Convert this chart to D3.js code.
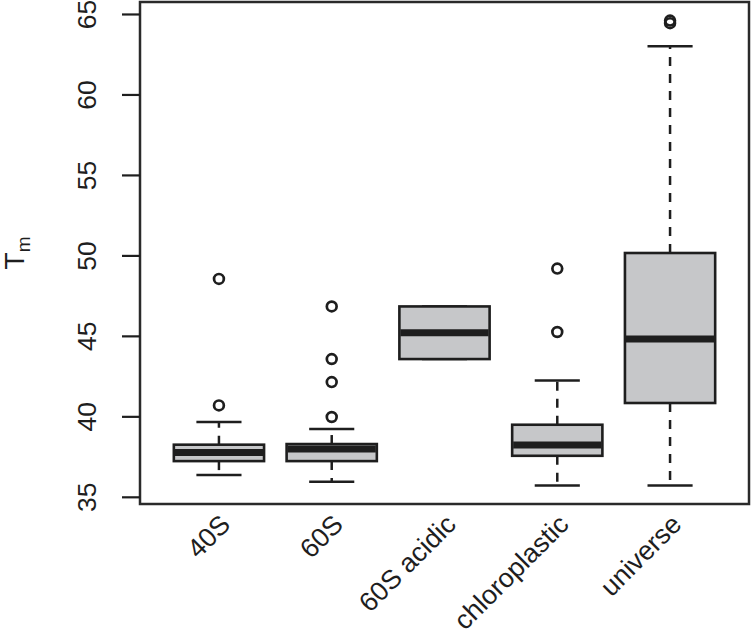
<!DOCTYPE html>
<html>
<head>
<meta charset="utf-8">
<script src="https://cdn.jsdelivr.net/npm/d3@7"></script>
<style>
  html, body { margin: 0; padding: 0; background: #fff; }
  svg { display: block; }
  text { font-family: "Liberation Sans", Arial, Helvetica, sans-serif; fill: #1e1e1e; }
</style>
</head>
<body>
<svg id="chart" width="751" height="637"></svg>
<script>
// ---- data ----
const categories  = ["40S", "60S", "60S acidic", "chloroplastic", "universe"];
const whiskerLow  = [36.38, 35.97, 43.59, 35.74, 35.74];
const q1          = [37.25, 37.25, 43.59, 37.58, 40.86];
const medians     = [37.79, 38.00, 45.23, 38.25, 44.84];
const q3          = [38.27, 38.31, 46.86, 39.51, 50.18];
const whiskerHigh = [39.68, 39.24, 46.86, 42.26, 63.02];
const outliers    = [[48.57, 40.71], [46.86, 43.59, 42.16, 39.99], [], [49.21, 45.27], [64.62, 64.46]];
const yTicks      = [35, 40, 45, 50, 55, 60, 65];

// ---- layout ----
const svg = d3.select("#chart");
const plot = { left: 140, right: 749, top: 2, bottom: 504 };
const ink = "#1e1e1e";

const allVals = whiskerLow.concat(whiskerHigh, outliers.flat());
const vmin = d3.min(allVals), vmax = d3.max(allVals), pad = (vmax - vmin) * 0.04;

const x = d3.scaleLinear().domain([0.3, categories.length + 0.7]).range([plot.left, plot.right]);
const y = d3.scaleLinear().domain([vmin - pad, vmax + pad]).range([plot.bottom, plot.top]);

const boxW = x(0.8) - x(0);
const capW = boxW / 2;

const g = svg.append("g");

categories.forEach((c, i) => {
  const cx = x(i + 1);
  const grp = g.append("g");
  // whiskers (dashed)
  if (whiskerLow[i] < q1[i]) {
    grp.append("line").attr("x1", cx).attr("x2", cx)
      .attr("y1", y(q1[i])).attr("y2", y(whiskerLow[i]))
      .attr("stroke", ink).attr("stroke-width", 2.5).attr("stroke-dasharray", "9,8");
  }
  if (whiskerHigh[i] > q3[i]) {
    grp.append("line").attr("x1", cx).attr("x2", cx)
      .attr("y1", y(q3[i])).attr("y2", y(whiskerHigh[i]))
      .attr("stroke", ink).attr("stroke-width", 2.5).attr("stroke-dasharray", "9,8");
  }
  // caps
  [whiskerLow[i], whiskerHigh[i]].forEach(v => {
    grp.append("line").attr("x1", cx - capW / 2).attr("x2", cx + capW / 2)
      .attr("y1", y(v)).attr("y2", y(v))
      .attr("stroke", ink).attr("stroke-width", 2.5);
  });
  // box
  grp.append("rect")
    .attr("x", cx - boxW / 2).attr("width", boxW)
    .attr("y", y(q3[i])).attr("height", y(q1[i]) - y(q3[i]))
    .attr("fill", "#c6c7c9").attr("stroke", ink).attr("stroke-width", 2.6);
  // median
  grp.append("line").attr("x1", cx - boxW / 2 + 1).attr("x2", cx + boxW / 2 - 1)
    .attr("y1", y(medians[i])).attr("y2", y(medians[i]))
    .attr("stroke", ink).attr("stroke-width", 7);
  // outliers
  grp.selectAll("circle.out").data(outliers[i]).enter().append("circle")
    .attr("cx", cx).attr("cy", d => y(d)).attr("r", 4.9)
    .attr("fill", "none").attr("stroke", ink).attr("stroke-width", 2.7);
});

// plot frame
svg.append("rect")
  .attr("x", plot.left).attr("y", plot.top)
  .attr("width", plot.right - plot.left).attr("height", plot.bottom - plot.top)
  .attr("fill", "none").attr("stroke", "#2a2a2a").attr("stroke-width", 2.5);

// y axis ticks & labels
const yAxis = svg.append("g");
yTicks.forEach(t => {
  yAxis.append("line").attr("x1", 122).attr("x2", plot.left)
    .attr("y1", y(t)).attr("y2", y(t))
    .attr("stroke", ink).attr("stroke-width", 2.2);
  yAxis.append("text")
    .attr("transform", `translate(96,${y(t)}) rotate(-90)`)
    .attr("text-anchor", "middle")
    .attr("font-size", "26.5px")
    .text(t);
});

// x labels (rotated 45)
categories.forEach((c, i) => {
  svg.append("text")
    .attr("transform", `translate(${x(i + 1) + 13},${plot.bottom + 22}) rotate(-45)`)
    .attr("text-anchor", "end")
    .attr("font-size", "26.8px")
    .text(c);
});

// y label T_m
const yl = svg.append("text")
  .attr("transform", `translate(24,${(plot.top + plot.bottom) / 2}) rotate(-90)`)
  .attr("text-anchor", "middle");
yl.append("tspan").attr("font-size", "28px").text("T");
yl.append("tspan").attr("font-size", "19px").attr("dy", 6).text("m");
</script>
</body>
</html>
